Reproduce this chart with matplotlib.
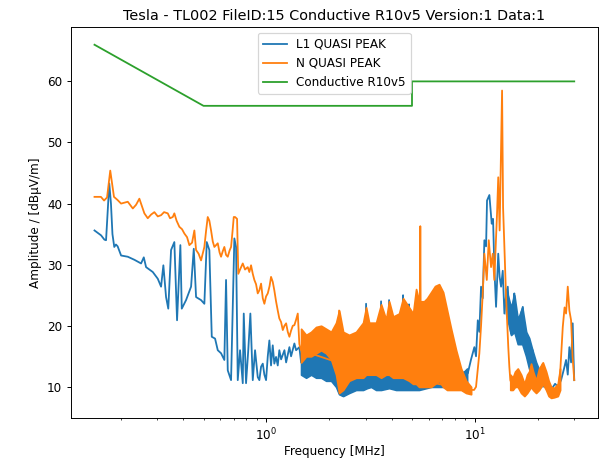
import numpy as np
import matplotlib
matplotlib.use("Agg")
import matplotlib.pyplot as plt

# Limit line (dBuV/m)
limit_f = [0.15, 0.5, 5.0, 5.0, 30.0]
limit_v = [66, 56, 56, 60, 60]

# L1 quasi-peak trace
l1_f = [0.150, 0.1613, 0.1673, 0.1704, 0.1766, 0.1799, 0.1829, 0.1866, 0.1901, 0.1937,
        0.2012, 0.2166, 0.2330, 0.2509, 0.2585, 0.2651, 0.2855, 0.3017, 0.3129, 0.3209,
        0.3306, 0.3388, 0.3494, 0.3623, 0.3733, 0.3872, 0.3932, 0.4123, 0.4358, 0.4490,
        0.4605, 0.4866, 0.5047, 0.5182, 0.5333, 0.5477, 0.5680, 0.5852, 0.6069, 0.6294,
        0.6413, 0.6535, 0.6778, 0.7029, 0.7162, 0.7298, 0.7485, 0.7713, 0.7798, 0.7998,
        0.8196, 0.8388, 0.8614, 0.8834, 0.9101, 0.9264, 0.9442, 0.9621, 0.9792, 0.9977,
        1.0166, 1.0347, 1.054, 1.074, 1.093, 1.114, 1.135, 1.155, 1.178, 1.222,
        1.245, 1.291, 1.315, 1.364, 1.390, 1.441, 1.469, 2.162, 2.235, 2.336,
        2.98, 3.011, 3.04, 3.50, 3.553, 3.60, 3.84, 3.881, 3.92, 4.49, 4.530, 4.57,
        4.80, 4.840, 4.88, 9.184,
        9.255, 9.600, 9.956, 10.14, 10.34, 10.52, 10.72, 10.92, 11.12, 11.33,
        11.45, 11.75, 11.90, 12.06, 12.24, 12.41, 12.65, 12.79, 12.96, 13.16,
        13.37, 13.62, 13.87, 14.13, 14.40, 14.65, 14.93, 15.26, 15.48, 15.78,
        16.08, 16.31, 16.68, 17.00, 17.24, 17.63, 17.96, 18.22, 18.62, 18.97,
        19.25, 19.68, 20.05, 20.80, 21.50, 22.22, 23.23, 24.28, 25.10, 25.94,
        26.81, 27.41, 27.93, 28.43, 28.97, 29.50, 29.76, 30.0]
l1_v = [35.6, 34.8, 34.1, 34.0, 43.3, 40.0, 35.0, 32.9, 33.3, 33.0,
        31.5, 31.3, 30.8, 30.2, 31.2, 29.6, 28.8, 27.7, 26.4, 29.9,
        24.7, 22.8, 32.4, 33.7, 20.9, 33.2, 22.8, 24.2, 26.4, 32.6,
        24.7, 24.2, 23.6, 33.7, 32.4, 18.2, 17.9, 16.0, 15.5, 14.4,
        27.5, 12.7, 11.1, 34.3, 32.9, 11.1, 16.0, 10.6, 22.0, 10.6,
        16.0, 22.0, 11.1, 16.0, 11.6, 11.1, 13.3, 13.8, 12.0, 11.1,
        15.0, 17.6, 13.5, 16.8, 13.8, 14.9, 13.5, 16.0, 14.5, 16.0,
        14.0, 16.5, 15.0, 17.1, 16.0, 16.5, 14.0, 11.0, 9.0, 8.5,
        11.0, 23.6, 11.0, 11.0, 24.0, 11.0, 11.0, 24.2, 11.0, 11.0, 25.0, 10.5,
        10.5, 23.5, 10.5, 12.5,
        12.2, 14.5, 16.5, 15.0, 20.9, 19.0, 26.4, 24.5, 34.0, 33.0,
        40.5, 41.4, 39.0, 36.7, 37.5, 29.6, 23.1, 27.0, 31.8, 28.0,
        26.4, 29.0, 22.0, 25.0, 26.4, 21.5, 18.7, 23.5, 25.3, 19.0,
        20.4, 17.0, 22.0, 23.1, 17.0, 19.0, 14.9, 18.0, 13.0, 16.0,
        12.0, 14.0, 11.1, 12.0, 10.0, 11.0, 9.5, 10.5, 10.0, 11.1,
        13.0, 14.4, 12.0, 16.5, 14.0, 20.4, 15.0, 11.1]

# L1 dense sweep regions: frequency, upper and lower envelope
l1_band_f = [1.469, 1.552, 1.640, 1.733, 1.832, 1.936, 2.046, 2.162, 2.235, 2.336,
             2.496, 2.696, 2.913, 3.044, 3.182, 3.362, 3.553, 3.881, 4.193, 4.530,
             4.949, 5.405, 6.172, 6.893, 7.697, 8.596, 9.184]
l1_band_hi = [16.5, 16.0, 16.5, 17.0, 17.5, 17.0, 16.5, 15.0, 14.0, 13.0,
              13.0, 13.0, 13.5, 14.0, 14.0, 13.5, 13.0, 12.5, 12.5, 12.0,
              11.5, 11.0, 11.0, 11.0, 11.0, 12.0, 13.0]
l1_band_lo = [12.0, 11.5, 12.0, 11.5, 11.5, 11.0, 11.0, 10.0, 8.8, 8.5,
              9.0, 9.5, 9.5, 9.8, 10.0, 9.5, 9.5, 9.8, 9.5, 9.5,
              9.5, 9.5, 10.0, 10.0, 10.0, 10.0, 10.5]

l1_band2_f = [14.13, 14.93, 15.48, 16.08, 16.90, 17.63, 18.22, 18.90, 19.68, 20.80]
l1_band2_hi = [26.0, 23.0, 25.0, 21.0, 23.0, 19.0, 18.0, 16.0, 14.0, 12.0]
l1_band2_lo = [22.0, 18.5, 19.0, 17.0, 17.0, 15.0, 13.0, 12.0, 11.0, 10.0]

# N quasi-peak trace
n_f = [0.150, 0.161, 0.1667, 0.1723, 0.1785, 0.186, 0.1933, 0.2012, 0.2166, 0.229,
       0.2374, 0.2462, 0.2602, 0.2701, 0.2802, 0.2906, 0.3017, 0.3129, 0.3234, 0.3369,
       0.3455, 0.356, 0.3623, 0.3713, 0.3829, 0.3945, 0.4047, 0.4169, 0.4276, 0.4406,
       0.452, 0.4605, 0.4734, 0.4866, 0.5047, 0.5142, 0.5239, 0.5333, 0.5435, 0.5538,
       0.5637, 0.5852, 0.597, 0.6069, 0.6184, 0.6294, 0.6413, 0.6535, 0.6666, 0.6778,
       0.6891, 0.6983, 0.7084, 0.7242, 0.7341, 0.7485, 0.7713, 0.791, 0.815, 0.8295,
       0.8453, 0.8614, 0.8767, 0.8932, 0.9101, 0.9264, 0.9442, 0.9621, 0.9792, 0.9977,
       1.0166, 1.037, 1.054, 1.074, 1.093, 1.114, 1.135, 1.155, 1.178, 1.200,
       1.222, 1.245, 1.268, 1.291, 1.315, 1.340, 1.364, 1.390, 1.416, 1.441,
       1.469, 2.200, 2.235, 2.336, 2.496, 5.405, 5.44, 5.48, 5.52, 9.600,
       9.924, 10.14, 10.52, 10.72, 10.92, 11.12, 11.42, 11.67, 11.97, 12.20,
       12.41, 12.79, 12.96, 13.16, 13.37, 13.52, 13.67, 13.87, 14.13, 14.48,
       14.65, 14.81, 15.21, 15.60, 16.08, 16.68, 17.30, 17.82, 18.22, 18.62,
       19.04, 19.68, 20.34, 21.20, 21.50, 21.98, 22.60, 23.23, 24.01, 25.01,
       25.65, 26.43, 26.96, 27.41, 27.93, 28.43, 28.97, 29.45, 30.0]
n_v = [41.1, 41.1, 40.5, 41.0, 45.4, 41.1, 40.6, 40.0, 40.3, 39.2,
       39.8, 40.8, 38.4, 37.6, 38.2, 38.6, 37.9, 38.1, 38.6, 38.4,
       37.6, 37.8, 38.4, 37.2, 36.2, 35.8, 35.1, 34.5, 33.2, 33.6,
       35.6, 32.4, 31.8, 30.7, 32.9, 35.5, 37.8, 37.2, 35.6, 33.8,
       32.9, 33.5, 32.0, 31.3, 32.2, 32.9, 31.6, 31.3, 32.3, 32.9,
       35.5, 37.8, 37.8, 37.5, 28.5, 29.2, 30.2, 29.2, 29.6, 28.8,
       29.9, 28.5, 27.5, 26.8, 25.3, 25.8, 26.9, 24.5, 23.6, 24.8,
       25.3, 26.5, 28.0, 27.2, 25.8, 24.0, 22.5, 21.2, 20.6, 19.3,
       20.0, 20.4, 19.0, 18.2, 19.2, 20.0, 20.1, 21.0, 22.0, 17.0,
       16.0, 14.0, 22.5, 9.5, 13.0, 13.0, 11.0, 36.3, 11.0, 9.5,
       9.5, 10.0, 15.5, 20.0, 25.3, 31.8, 27.5, 34.0, 29.6, 31.8,
       27.5, 38.4, 44.3, 35.6, 49.3, 58.5, 39.4, 32.9, 24.7, 16.5,
       13.3, 11.1, 10.0, 11.5, 12.2, 10.0, 8.9, 11.0, 10.0, 13.3,
       11.0, 9.5, 12.0, 13.8, 12.5, 11.1, 9.5, 8.4, 8.6, 8.9,
       12.0, 19.8, 23.0, 22.0, 26.4, 22.5, 20.9, 15.0, 11.1]

# N dense sweep regions: frequency, upper and lower envelope
n_band_f = [1.469, 1.552, 1.640, 1.733, 1.832, 1.936, 2.046, 2.162, 2.235, 2.336,
            2.496, 2.696, 2.913, 3.011, 3.112, 3.362, 3.553, 3.754, 3.881, 4.057,
            4.334, 4.530, 4.840, 5.059, 5.230, 5.405, 5.712, 5.904, 6.172, 6.450,
            6.741, 7.047, 7.364, 7.697, 8.133, 8.596, 9.083, 9.600]
n_band_hi = [19.5, 18.5, 19.0, 19.8, 20.0, 19.5, 19.0, 20.5, 22.5, 19.0,
             18.5, 19.0, 20.5, 23.0, 20.5, 20.5, 23.5, 21.0, 24.0, 21.5,
             22.0, 24.5, 23.0, 22.0, 26.0, 24.0, 24.0, 24.5, 25.5, 26.5,
             26.8, 25.5, 22.5, 19.5, 16.0, 13.0, 11.0, 10.0]
n_band_lo = [14.0, 15.0, 15.0, 15.5, 16.0, 15.5, 14.5, 12.0, 9.0, 9.5,
             11.0, 11.5, 11.5, 12.0, 12.0, 12.0, 11.5, 12.0, 12.0, 11.5,
             11.5, 11.5, 11.0, 10.5, 10.5, 10.0, 10.0, 10.0, 10.0, 10.5,
             11.0, 10.0, 9.5, 9.5, 9.5, 9.5, 9.0, 8.8]

n_band2_f = [14.81, 15.21, 15.60, 16.08, 16.68, 17.30, 17.82, 18.22, 18.62, 19.04,
             19.68, 20.34, 21.20, 21.98, 22.60, 23.23, 24.01, 25.01, 25.65]
n_band2_hi = [12.0, 11.5, 12.5, 13.0, 12.0, 10.5, 12.0, 12.5, 13.8, 12.5,
              11.0, 13.0, 14.0, 12.5, 11.0, 10.0, 9.8, 10.5, 13.0]
n_band2_lo = [9.5, 9.5, 10.0, 10.0, 9.0, 8.5, 9.0, 9.5, 10.0, 9.5,
              9.0, 9.5, 10.5, 9.5, 8.5, 8.2, 8.3, 8.5, 9.5]

c_l1, c_n, c_lim = "C0", "C1", "C2"
dpi = 86.4

fig = plt.figure(figsize=(601 / dpi, 458 / dpi), dpi=dpi)
ax = fig.add_axes([0.1176, 0.0873, 0.8774, 0.8537])

# L1 underneath, N on top of it, limit line over everything
ax.fill_between(l1_band_f, l1_band_lo, l1_band_hi, color=c_l1, lw=1.5, zorder=2)
ax.fill_between(l1_band2_f, l1_band2_lo, l1_band2_hi, color=c_l1, lw=1.5, zorder=2)
ax.plot(l1_f, l1_v, color=c_l1, lw=1.5, label="L1 QUASI PEAK", zorder=2)
ax.fill_between(n_band_f, n_band_lo, n_band_hi, color=c_n, lw=1.5, zorder=3)
ax.fill_between(n_band2_f, n_band2_lo, n_band2_hi, color=c_n, lw=1.5, zorder=3)
ax.plot(n_f, n_v, color=c_n, lw=1.5, label="N QUASI PEAK", zorder=3)
ax.plot(limit_f, limit_v, color=c_lim, lw=1.5, label="Conductive R10v5", zorder=4)

ax.set_xscale("log")
ax.set_xlim(0.1153, 39.0)
ax.set_ylim(4.9, 68.9)
ax.set_yticks([10, 20, 30, 40, 50, 60])
ax.set_xlabel("Frequency [MHz]", labelpad=2)
ax.set_ylabel("Amplitude / [dBµV/m]")
ax.set_title("Tesla - TL002 FileID:15 Conductive R10v5 Version:1 Data:1")
ax.legend(loc="upper center")

fig.savefig("out.png", dpi=dpi)
